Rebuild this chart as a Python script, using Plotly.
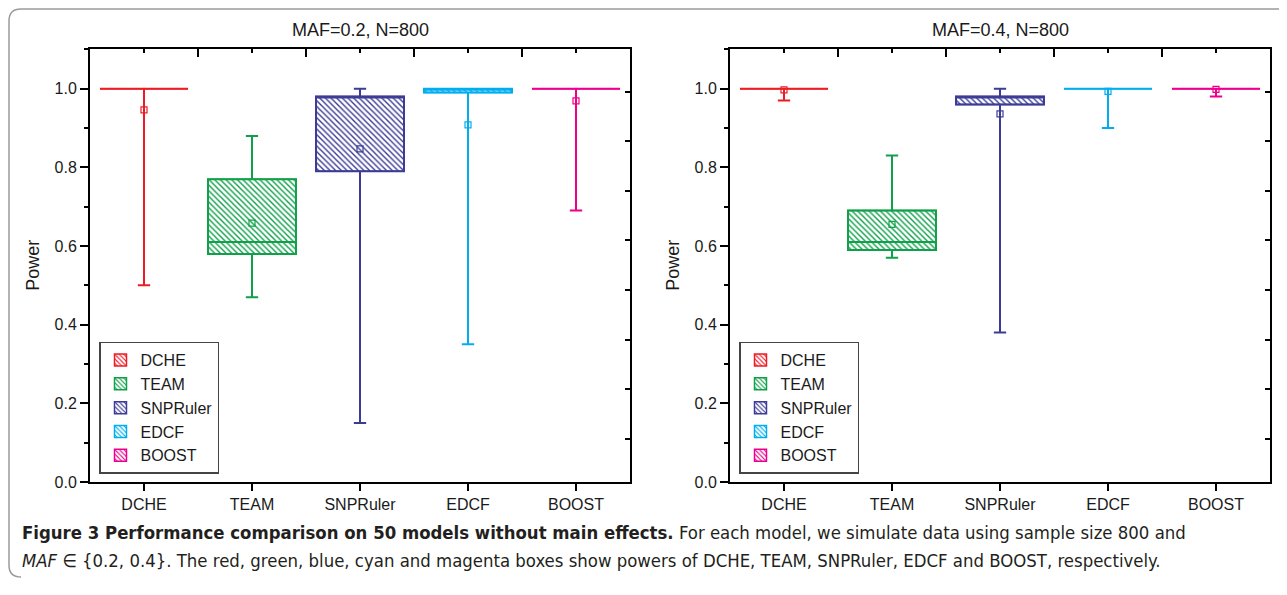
import plotly.graph_objects as go

# data
methods = ["DCHE", "TEAM", "SNPRuler", "EDCF", "BOOST"]
colors = ["#ED1C24", "#10A04A", "#3C3C96", "#00AEEF", "#EC008C"]
titles = ["MAF=0.2, N=800", "MAF=0.4, N=800"]

# MAF = 0.2
upper_02 = [1.00, 0.88, 1.00, 1.00, 1.00]
q3_02 = [1.00, 0.77, 0.98, 1.00, 1.00]
median_02 = [1.00, 0.61, 0.98, 1.00, 1.00]
q1_02 = [1.00, 0.58, 0.79, 0.99, 1.00]
lower_02 = [0.50, 0.47, 0.15, 0.35, 0.69]
mean_02 = [0.946, 0.658, 0.847, 0.908, 0.969]

# MAF = 0.4
upper_04 = [1.00, 0.83, 1.00, 1.00, 1.00]
q3_04 = [1.00, 0.69, 0.98, 1.00, 1.00]
median_04 = [1.00, 0.61, 0.98, 1.00, 1.00]
q1_04 = [1.00, 0.59, 0.96, 1.00, 1.00]
lower_04 = [0.97, 0.57, 0.38, 0.90, 0.98]
mean_04 = [0.997, 0.655, 0.936, 0.993, 0.998]

# page body has an 8px margin all round: keep the figure inside the window
OFF = 8
W, H = 1287 - 2 * OFF, 595 - 2 * OFF
FONT = "Liberation Sans, Arial, sans-serif"
BOXW = 0.815


def X(px):
    return (px - OFF) / W


def Y(py):
    return 1 - (py - OFF) / H


panels = [
    dict(xa="x", ya="y", legend="legend", upper=upper_02, q3=q3_02, med=median_02,
         q1=q1_02, lower=lower_02, mean=mean_02),
    dict(xa="x2", ya="y2", legend="legend2", upper=upper_04, q3=q3_04, med=median_04,
         q1=q1_04, lower=lower_04, mean=mean_04),
]

fig = go.Figure()
for p in panels:
    for i, m in enumerate(methods):
        c = colors[i]
        # hatched box body
        fig.add_trace(go.Bar(
            x=[i], y=[p["q3"][i] - p["q1"][i]], base=[p["q1"][i]], width=BOXW,
            name=m, legend=p["legend"], xaxis=p["xa"], yaxis=p["ya"],
            marker=dict(color=c, line=dict(color=c, width=1.5),
                        pattern=dict(shape="\\", fillmode="replace", bgcolor="white",
                                     size=4, solidity=0.35)),
            hoverinfo="skip",
        ))
        # outline, median, whiskers
        fig.add_trace(go.Box(
            x=[i], q1=[p["q1"][i]], median=[p["med"][i]], q3=[p["q3"][i]],
            lowerfence=[p["lower"][i]], upperfence=[p["upper"][i]],
            width=BOXW, whiskerwidth=0.14, fillcolor="rgba(0,0,0,0)",
            line=dict(color=c, width=2), showlegend=False,
            xaxis=p["xa"], yaxis=p["ya"], hoverinfo="skip",
        ))
        # mean marker
        fig.add_trace(go.Scatter(
            x=[i], y=[p["mean"][i]], mode="markers", showlegend=False,
            marker=dict(symbol="square-open", size=6, color=c, line=dict(width=1.2)),
            xaxis=p["xa"], yaxis=p["ya"], hoverinfo="skip",
        ))

# empty traces so the mirrored top / right axes get drawn
for k in (3, 4):
    fig.add_trace(go.Scatter(x=[None], y=[None], xaxis="x%d" % k, yaxis="y%d" % k,
                             showlegend=False, hoverinfo="skip"))

ydom = [Y(489.5), Y(50)]
xdoms = [[X(90), X(630)], [X(730), X(1270)]]

tickfont = dict(family=FONT, size=16, color="#1a1a1a")
line_kw = dict(showline=True, linecolor="black", linewidth=2, showgrid=False,
               zeroline=False, tickcolor="black", tickwidth=1.5)

layout = dict(
    width=W, height=H, margin=dict(l=0, r=0, t=0, b=0),
    paper_bgcolor="white", plot_bgcolor="white", barmode="overlay",
    font=dict(family=FONT, color="#1a1a1a"),
)
for k, dom in enumerate(xdoms):
    xa = "xaxis" if k == 0 else "xaxis2"
    ya = "yaxis" if k == 0 else "yaxis2"
    xid = "x" if k == 0 else "x2"
    yid = "y" if k == 0 else "y2"
    layout[xa] = dict(domain=dom, anchor=yid, range=[-0.5, 4.5], tickmode="array",
                      tickvals=list(range(len(methods))), ticktext=methods,
                      ticks="outside", ticklen=7, tickfont=tickfont, **line_kw)
    layout[ya] = dict(domain=ydom, anchor=xid, range=[0, 1.1], tick0=0, dtick=0.2,
                      tickformat=".1f", ticks="outside", ticklen=8, tickfont=tickfont,
                      minor=dict(dtick=0.1, ticks="outside", ticklen=4,
                                 tickcolor="black", tickwidth=1.5),
                      **line_kw)
    # top axis with inside ticks
    layout["xaxis%d" % (k + 3)] = dict(
        overlaying=xid, anchor=yid, side="top", range=[-0.5, 4.5], tick0=-0.5,
        dtick=1, ticks="inside", ticklen=8, showticklabels=False,
        minor=dict(tick0=0, dtick=1, ticks="inside", ticklen=4,
                   tickcolor="black", tickwidth=1.5),
        **line_kw)
    # right axis with inside ticks
    layout["yaxis%d" % (k + 3)] = dict(
        overlaying=yid, anchor=xid, side="right", range=[0.2127, 1.0855],
        tick0=0, dtick=0.1, ticks="inside", ticklen=5, showticklabels=False,
        **line_kw)

for name, x0 in (("legend", 99), ("legend2", 739)):
    layout[name] = dict(x=X(x0), y=Y(481), xanchor="left", yanchor="bottom",
                        bgcolor="white", bordercolor="#444", borderwidth=1.5,
                        font=dict(family=FONT, size=16, color="#1a1a1a"),
                        itemclick=False)

fig.update_layout(**layout)

ann = []
for k, dom in enumerate(xdoms):
    ann.append(dict(text=titles[k], xref="paper", yref="paper", x=(dom[0] + dom[1]) / 2,
                    y=Y(30), xanchor="center", yanchor="middle", showarrow=False,
                    font=dict(family=FONT, size=18)))
    ann.append(dict(text="Power", xref="paper", yref="paper", x=dom[0] - 57 / W,
                    y=(ydom[0] + ydom[1]) / 2, xanchor="center", yanchor="middle",
                    textangle=-90, showarrow=False, font=dict(family=FONT, size=18)))

CAP = "Liberation Sans Narrow, DejaVu Sans Condensed, Liberation Sans, sans-serif"
ann.append(dict(
    text="<b>Figure 3 Performance comparison on 50 models without main effects.</b> "
         "For each model, we simulate data using sample size 800 and",
    xref="paper", yref="paper", x=X(20), y=Y(541), xanchor="left", yanchor="middle",
    showarrow=False, font=dict(family=CAP, size=18.4, color="#231f20")))
ann.append(dict(
    text="<i>MAF</i> \u2208 {0.2, 0.4}. The red, green, blue, cyan and magenta boxes show "
         "powers of DCHE, TEAM, SNPRuler, EDCF and BOOST, respectively.",
    xref="paper", yref="paper", x=X(20), y=Y(569), xanchor="left", yanchor="middle",
    showarrow=False, font=dict(family=CAP, size=18.4, color="#231f20")))
fig.update_layout(annotations=ann)


# rounded frame around the figure panel (kept inside the drawable area)
def pt(x, y):
    return "%.5f,%.5f" % (X(x), Y(y))


frame = "M %s L %s Q %s %s L %s Q %s %s" % (
    pt(1300, 9), pt(21, 9), pt(9, 9), pt(9, 21), pt(9, 574), pt(9, 586), pt(21, 586))
fig.add_shape(type="path", path=frame, xref="paper", yref="paper",
              line=dict(color="#9a9a9a", width=1.5))

fig.write_html("out.html")
